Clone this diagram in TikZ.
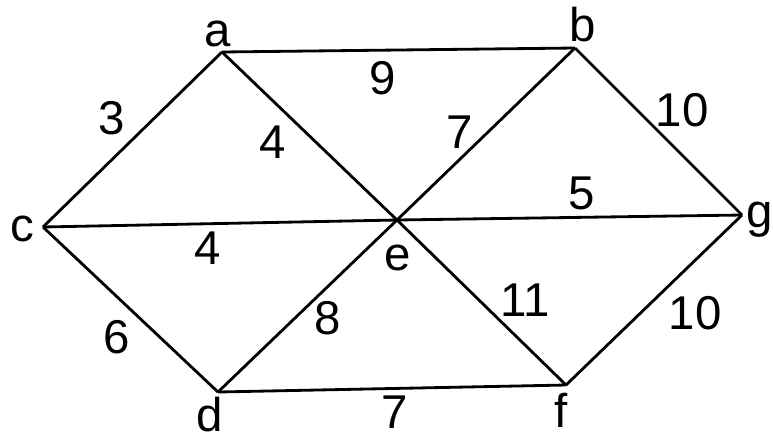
\documentclass[tikz,border=0pt]{standalone}
\usepackage{fontspec}
\setmainfont{Liberation Sans}
\begin{document}
\begin{tikzpicture}[x=0.02cm, y=-0.02cm, line width=1.6pt,
  lbl/.style={font=\fontsize{27}{32}\selectfont, inner sep=0pt}]
\useasboundingbox (0,0) rectangle (773,440);
% vertices
\coordinate (a) at (222,52);
\coordinate (b) at (575,48);
\coordinate (c) at (43,227);
\coordinate (e) at (397,220);
\coordinate (g) at (742,215);
\coordinate (d) at (218,392);
\coordinate (f) at (566,385);
% vertex names
\node[lbl] (la) at (218,34) {a};
\node[lbl] (lb) at (583,25) {b};
\node[lbl] (lc) at (22,229) {c};
\node[lbl] (le) at (398,258) {e};
\node[lbl] (lg) at (760,220) {g};
\node[lbl] (ld) at (210,415) {d};
\node[lbl] (lf) at (561,410) {f};
% edges
\draw (a) -- (b);
\draw (a) -- (c);
\draw (a) -- (e);
\draw (b) -- (e);
\draw (b) -- (g);
\draw (c) -- (e);
\draw (e) -- (g);
\draw (c) -- (d);
\draw (d) -- (e);
\draw (e) -- (f);
\draw (f) -- (g);
\draw (d) -- (f);
% weights
\node[lbl] (wab) at (383,78) {9};
\node[lbl] (wac) at (112,118) {3};
\node[lbl] (wae) at (273,142) {4};
\node[lbl] (wbe) at (460,132) {7};
\node[lbl] (wbg) at (682,110) {10};
\node[lbl] (weg) at (582,193) {5};
\node[lbl] (wce) at (208,248) {4};
\node[lbl] (wcd) at (117,337) {6};
\node[lbl] (wde) at (328,318) {8};
\node[lbl] (wef) at (525,300) {11};
\node[lbl] (wfg) at (695,313) {10};
\node[lbl] (wdf) at (395,412) {7};
\end{tikzpicture}
\end{document}
